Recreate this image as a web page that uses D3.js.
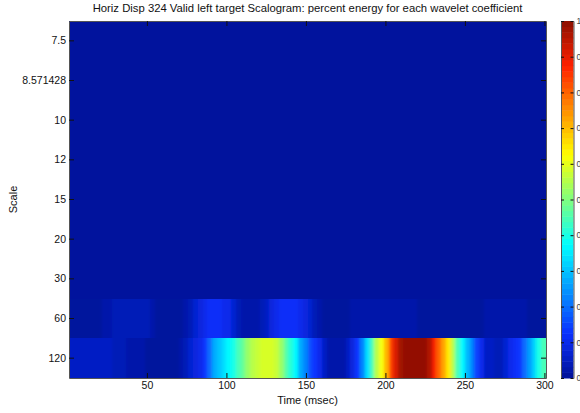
<!DOCTYPE html>
<html>
<head>
<meta charset="utf-8">
<script src="https://cdn.jsdelivr.net/npm/d3@7"></script>
<style>
  html, body { margin: 0; padding: 0; background: #fff; overflow: hidden; }
  text { font-family: "Liberation Sans", sans-serif; fill: #111; }
</style>
</head>
<body>
<script>
const width = 580;
const height = 413;

const titulo = "Horiz Disp 324 Valid left target Scalogram: percent energy for each wavelet coefficient";
const escalas = ["7.5", "8.571428", "10", "12", "15", "20", "30", "60", "120"];
const ticksTiempo = [50, 100, 150, 200, 250, 300];
const ticksBarra = [0, 0.1, 0.2, 0.3, 0.4, 0.5, 0.6, 0.7, 0.8, 0.9, 1];

// columnas de 3 msec, de 1 a 301
const tiempos = d3.range(1, 301, 3);

// las filas de arriba son casi planas
const filasBajas = [0.004, 0.004, 0.004, 0.004, 0.004, 0.004, 0.004];

const fila60 = [
  .01, .01, .01, .01, .01, .01, .015, .025, .03, .04,
  .045, .045, .045, .045, .045, .045, .04, .025, .015, .012,
  .012, .012, .012, .012, .025, .04, .065, .085, .10, .11,
  .11, .11, .105, .095, .065, .035, .02, .018, .018, .025,
  .04, .06, .085, .10, .11, .12, .12, .115, .10, .085,
  .065, .04, .025, .015, .012, .012, .012, .012, .012, .02,
  .03, .03, .03, .03, .03, .03, .03, .025, .02, .02,
  .02, .02, .02, .012, .012, .012, .012, .012, .012, .012,
  .012, .012, .012, .012, .012, .012, .012, .025, .025, .025,
  .025, .025, .025, .025, .025, .025, .012, .012, .012, .012
];

const fila120 = [
  .06, .06, .06, .06, .06, .06, .06, .06, .06, .035,
  .035, .035, .02, .02, .02, .02, .012, .012, .012, .012,
  .012, .012, .012, .025, .045, .07, .085, .105, .125, .19,
  .28, .31, .34, .37, .40, .45, .48, .52, .56, .57,
  .58, .58, .58, .57, .52, .46, .41, .36, .28, .22,
  .17, .13, .095, .055, .03, .02, .02, .02, .05, .08,
  .125, .23, .34, .45, .55, .62, .71, .83, .92, .98,
  1, 1, 1, 1, 1, .96, .88, .80, .72, .65,
  .56, .44, .37, .29, .22, .15, .095, .06, .05, .04,
  .04, .07, .095, .115, .135, .19, .25, .32, .40, .45
];

const margen = { top: 21, right: 34, bottom: 35, left: 69 };
const anchoPlot = 477;
const altoPlot = 357;

const svg = d3
  .select("body")
  .append("svg")
  .attr("width", width)
  .attr("height", height)
  .style("display", "block");

// jet de 64 niveles
const jet = d3
  .scaleLinear()
  .domain([0, 0.125, 0.375, 0.625, 0.875, 1])
  .range(["#001196", "#0a30ff", "#00ffff", "#ffff00", "#ff2000", "#8c1000"]);
const niveles = d3.range(64).map((i) => jet((i + 0.5) / 64));
const color = d3.scaleQuantize().domain([0, 1]).range(niveles);

const escalaX = d3.scaleLinear().domain([1, 301]).range([margen.left, margen.left + anchoPlot]);
const escalaY = d3
  .scaleBand()
  .domain(escalas)
  .range([margen.top, margen.top + altoPlot]);

const defs = svg.append("defs");
defs
  .append("clipPath")
  .attr("id", "recorte")
  .append("rect")
  .attr("x", margen.left)
  .attr("y", margen.top)
  .attr("width", anchoPlot)
  .attr("height", altoPlot);
// suaviza solo a lo largo del tiempo
defs
  .append("filter")
  .attr("id", "suave")
  .attr("x", "-5%")
  .attr("width", "110%")
  .append("feGaussianBlur")
  .attr("stdDeviation", "1.8 0");

const plot = svg.append("g").attr("clip-path", "url(#recorte)");

// filas planas
plot
  .selectAll("rect.baja")
  .data(filasBajas)
  .enter()
  .append("rect")
  .attr("class", "baja")
  .attr("x", escalaX(1))
  .attr("y", (d, i) => escalaY(escalas[i]))
  .attr("width", anchoPlot)
  .attr("height", escalaY.bandwidth())
  .attr("shape-rendering", "crispEdges")
  .attr("fill", (d) => color(d));

// filas con energia
const filasAltas = [
  { escala: "60", valores: fila60 },
  { escala: "120", valores: fila120 },
];

filasAltas.forEach((fila) => {
  const ultima = fila.valores.length - 1;
  plot
    .append("g")
    .attr("filter", "url(#suave)")
    .selectAll("rect")
    .data(fila.valores)
    .enter()
    .append("rect")
    // la primera y la ultima columna se alargan para que el suavizado no oscurezca los bordes
    .attr("x", (d, i) => escalaX(tiempos[i]) - (i === 0 ? 12 : 0))
    .attr("y", escalaY(fila.escala))
    .attr("width", (d, i) => escalaX(tiempos[i] + 3) - escalaX(tiempos[i]) + 0.5 + (i === 0 || i === ultima ? 12 : 0))
    .attr("height", escalaY.bandwidth() + 1)
    .attr("shape-rendering", "crispEdges")
    .attr("fill", (d) => color(d));
});

// ejes, marcas hacia adentro como en matlab
const estilizarEje = (g) => {
  g.selectAll("text").style("font-size", "10.5px");
  g.selectAll(".domain").attr("stroke", "#555");
  g.selectAll("line").attr("stroke", "#111");
};

const ejeX = svg
  .append("g")
  .attr("transform", `translate(0,${margen.top + altoPlot})`)
  .call(d3.axisBottom(escalaX).tickValues(ticksTiempo).tickSize(0).tickPadding(4).tickSizeOuter(0))
  .call(estilizarEje);
ejeX.selectAll("line").attr("y2", -5);

const ejeXArriba = svg
  .append("g")
  .attr("transform", `translate(0,${margen.top})`)
  .call(d3.axisTop(escalaX).tickValues(ticksTiempo).tickFormat("").tickSizeOuter(0))
  .call(estilizarEje);
ejeXArriba.selectAll("line").attr("y2", 5);

const ejeY = svg
  .append("g")
  .attr("transform", `translate(${margen.left},0)`)
  .call(d3.axisLeft(escalaY).tickSize(0).tickPadding(3))
  .call(estilizarEje);
ejeY.selectAll("line").attr("x2", 5);

const ejeYDerecha = svg
  .append("g")
  .attr("transform", `translate(${margen.left + anchoPlot},0)`)
  .call(d3.axisRight(escalaY).tickFormat("").tickSize(0))
  .call(estilizarEje);
ejeYDerecha.selectAll("line").attr("x2", -5);

// barra de color
const barraX = 561;
const barraAncho = 12.5;
const escalaBarra = d3.scaleLinear().domain([0, 1]).range([margen.top + altoPlot, margen.top]);

svg
  .selectAll("rect.barra")
  .data(niveles)
  .enter()
  .append("rect")
  .attr("class", "barra")
  .attr("x", barraX)
  .attr("y", (d, i) => escalaBarra((i + 1) / 64))
  .attr("width", barraAncho)
  .attr("height", altoPlot / 64 + 0.5)
  .attr("fill", (d) => d);

const ejeBarra = svg
  .append("g")
  .attr("transform", `translate(${barraX + barraAncho},0)`)
  .call(d3.axisRight(escalaBarra).tickValues(ticksBarra).tickFormat(d3.format("")).tickSize(0).tickPadding(3).tickSizeOuter(0))
  .call(estilizarEje);
ejeBarra.selectAll("text").style("font-size", "8.5px").style("fill", "#444");
ejeBarra.selectAll("line").attr("x2", -3);

const ejeBarraIzq = svg
  .append("g")
  .attr("transform", `translate(${barraX},0)`)
  .call(d3.axisLeft(escalaBarra).tickValues(ticksBarra).tickFormat("").tickSize(0).tickSizeOuter(0))
  .call(estilizarEje);
ejeBarraIzq.selectAll("line").attr("x2", 3);

// textos
svg
  .append("text")
  .attr("x", margen.left + anchoPlot / 2)
  .attr("y", 12)
  .attr("text-anchor", "middle")
  .style("font-size", "11.3px")
  .text(titulo);

svg
  .append("text")
  .attr("x", margen.left + anchoPlot / 2)
  .attr("y", 404)
  .attr("text-anchor", "middle")
  .style("font-size", "11px")
  .text("Time (msec)");

svg
  .append("text")
  .attr("transform", `translate(17,${margen.top + altoPlot / 2}) rotate(-90)`)
  .attr("text-anchor", "middle")
  .style("font-size", "11px")
  .text("Scale");
</script>
</body>
</html>
